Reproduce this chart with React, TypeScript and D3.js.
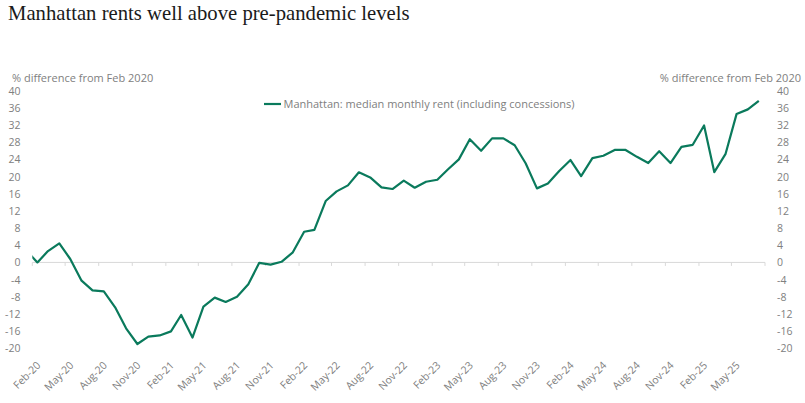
import * as d3 from 'd3'
import { useEffect, useRef, type ReactElement } from 'react'

// % difference from Feb 2020, one value per month, Jan 2020 .. Jul 2025
const firstMonth = new Date(2020, 0, 1)
const rentChange: number[] = [
  2.8, 0.0, 2.65, 4.45, 0.8, -4.25, -6.5, -6.75, -10.45, -15.35, -19.0, -17.3,
  -17.0, -16.05, -12.25, -17.5, -10.3, -8.2, -9.2, -8.0, -5.1, -0.1, -0.5, 0.15,
  2.35, 7.15, 7.6, 14.3, 16.55, 17.95, 21.0, 19.8, 17.5, 17.1, 19.05, 17.4,
  18.8, 19.25, 21.6, 24.0, 28.7, 26.0, 28.9, 28.9, 27.3, 23.1, 17.25, 18.4,
  21.3, 23.85, 20.1, 24.3, 24.85, 26.2, 26.2, 24.6, 23.15, 25.9, 23.15, 26.9,
  27.4, 31.9, 21.05, 25.3, 34.55, 35.65, 37.65,
]

const xTickLabels: string[] = [
  'Feb-20', 'May-20', 'Aug-20', 'Nov-20', 'Feb-21', 'May-21', 'Aug-21', 'Nov-21',
  'Feb-22', 'May-22', 'Aug-22', 'Nov-22', 'Feb-23', 'May-23', 'Aug-23', 'Nov-23',
  'Feb-24', 'May-24', 'Aug-24', 'Nov-24', 'Feb-25', 'May-25',
]
const yTicks: number[] = [40, 36, 32, 28, 24, 20, 16, 12, 8, 4, 0, -4, -8, -12, -16, -20]

const titleText = 'Manhattan rents well above pre-pandemic levels'
const axisTitle = '% difference from Feb 2020'
const seriesName = 'Manhattan: median monthly rent (including concessions)'

type Point = { t: Date; value: number }

const width = 805
const height = 403
const lineColor = '#0a7a5c'
const grey = '#808080'
const sansFont = '"Open Sans", "Noto Sans", sans-serif'

export default function App(): ReactElement {
  const svgRef = useRef<SVGSVGElement>(null)

  useEffect(() => {
    const svgElement = svgRef.current
    if (!svgElement) {
      return
    }
    const svg = d3.select(svgElement)
    svg.selectAll('*').remove()

    const series: Point[] = rentChange.map((value, i) => ({
      t: d3.timeDay.offset(d3.timeMonth.offset(firstMonth, i), 14),
      value,
    }))

    const axisStart = new Date(2020, 1, 1)
    const axisEnd = new Date(2025, 7, 1)
    const plot = { left: 32.3, right: 765, top: 90.7, bottom: 348.3 }

    const xScale = d3.scaleTime().domain([axisStart, axisEnd]).range([plot.left, plot.right])
    const yScale = d3.scaleLinear().domain([-20, 40]).range([plot.bottom, plot.top])
    const tickDates = d3.timeMonth.range(axisStart, d3.timeMonth.offset(axisEnd, 1), 3)

    svg.attr('width', width).attr('height', height)

    svg
      .append('text')
      .attr('x', 8)
      .attr('y', 20)
      .attr('font-family', '"Liberation Serif", serif')
      .attr('font-size', 20.7)
      .attr('fill', '#1a1a1a')
      .text(titleText)

    // axis titles
    svg
      .append('text')
      .attr('x', 12)
      .attr('y', 82)
      .attr('font-family', sansFont)
      .attr('font-size', 11)
      .attr('fill', grey)
      .text(axisTitle)
    svg
      .append('text')
      .attr('x', 801)
      .attr('y', 82)
      .attr('text-anchor', 'end')
      .attr('font-family', sansFont)
      .attr('font-size', 11)
      .attr('fill', grey)
      .text(axisTitle)

    // y tick labels, both sides
    const yLabels = svg.append('g').attr('font-family', sansFont).attr('font-size', 10.5).attr('fill', grey)
    yLabels
      .selectAll('text.left')
      .data(yTicks)
      .join('text')
      .attr('class', 'left')
      .attr('x', 20.5)
      .attr('y', (d) => yScale(d))
      .attr('dy', '0.38em')
      .attr('text-anchor', 'end')
      .text((d) => String(d))
    yLabels
      .selectAll('text.right')
      .data(yTicks)
      .join('text')
      .attr('class', 'right')
      .attr('x', 777)
      .attr('y', (d) => yScale(d))
      .attr('dy', '0.38em')
      .text((d) => String(d))

    // zero line and tick marks
    svg
      .append('line')
      .attr('x1', plot.left)
      .attr('x2', plot.right)
      .attr('y1', yScale(0))
      .attr('y2', yScale(0))
      .attr('stroke', '#d9d9d9')
      .attr('stroke-width', 1)
    svg
      .append('g')
      .selectAll('line')
      .data(tickDates)
      .join('line')
      .attr('x1', (d) => xScale(d))
      .attr('x2', (d) => xScale(d))
      .attr('y1', yScale(0))
      .attr('y2', yScale(0) + 3.5)
      .attr('stroke', '#d9d9d9')

    // x labels
    svg
      .append('g')
      .attr('font-family', sansFont)
      .attr('font-size', 10.5)
      .attr('fill', grey)
      .selectAll('text')
      .data(xTickLabels)
      .join('text')
      .attr('text-anchor', 'end')
      .attr('transform', (_, i) => `translate(${xScale(tickDates[i]!) + 9},${366}) rotate(-45)`)
      .text((d) => d)

    // line, clipped to the plot area
    svg
      .append('clipPath')
      .attr('id', 'plot-clip')
      .append('rect')
      .attr('x', plot.left)
      .attr('y', 0)
      .attr('width', plot.right - plot.left)
      .attr('height', height)

    const line = d3
      .line<Point>()
      .x((d) => xScale(d.t))
      .y((d) => yScale(d.value))

    svg
      .append('path')
      .datum(series)
      .attr('clip-path', 'url(#plot-clip)')
      .attr('fill', 'none')
      .attr('stroke', lineColor)
      .attr('stroke-width', 2.2)
      .attr('stroke-linejoin', 'round')
      .attr('d', line)

    // legend
    const legend = svg.append('g').attr('transform', 'translate(264,104)')
    legend
      .append('line')
      .attr('x1', 0)
      .attr('x2', 17)
      .attr('stroke', lineColor)
      .attr('stroke-width', 2.2)
    legend
      .append('text')
      .attr('x', 19.5)
      .attr('dy', '0.35em')
      .attr('font-family', sansFont)
      .attr('font-size', 11)
      .attr('fill', grey)
      .text(seriesName)
  }, [])

  return (
    <svg
      ref={svgRef}
      style={{ position: 'absolute', left: 0, top: 0, display: 'block' }}
      role="img"
      aria-label={titleText}
    />
  )
}
